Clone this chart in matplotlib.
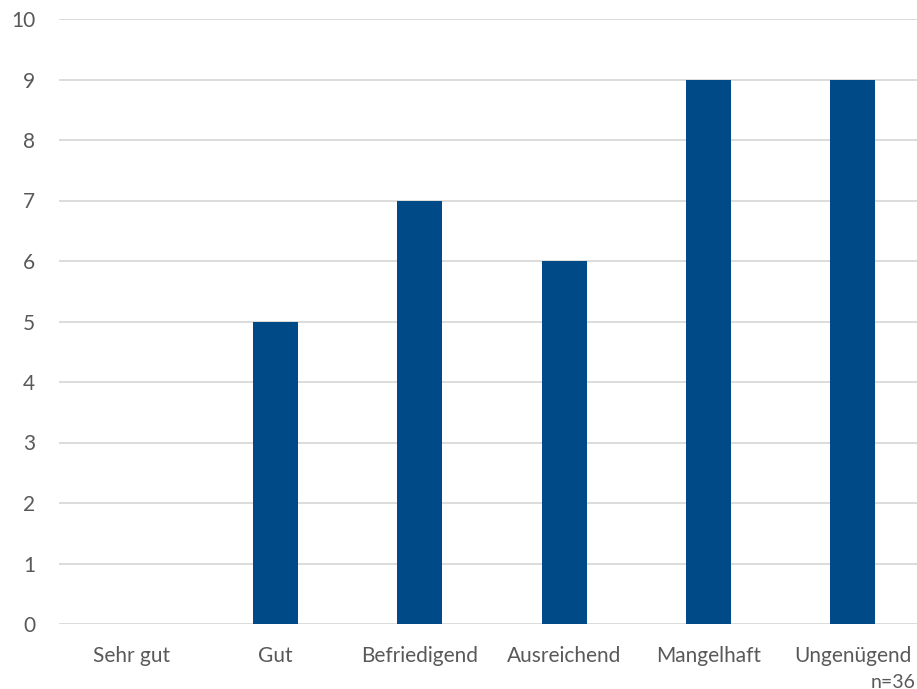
import matplotlib
matplotlib.use("Agg")
import matplotlib.pyplot as plt
import numpy as np

# data
categories = ["Sehr gut", "Gut", "Befriedigend", "Ausreichend", "Mangelhaft", "Ungenügend"]
counts = [0, 5, 7, 6, 9, 9]
yticks = list(range(0, 11))
note = "n=36"

bar_color = "#004B87"
grid_color = "#D9D9D9"
text_color = "#595959"

plt.rcParams['font.family'] = ['Lato', 'DejaVu Sans']

fig = plt.figure(figsize=(9.17, 6.89), dpi=100)
ax = fig.add_axes([59/917, 65/689, 866/917, 605/689])

x = np.arange(len(categories))
ax.bar(x, counts, width=0.31, color=bar_color, zorder=3)

ax.set_xlim(-0.5, len(categories) - 0.5)
ax.set_ylim(0, 10)
ax.set_yticks(yticks)
ax.set_xticks(x)
ax.set_xticklabels(categories)
ax.grid(axis='y', color=grid_color, linewidth=1.3, zorder=0)
ax.tick_params(axis='both', length=0, labelsize=15, colors=text_color)
ax.tick_params(axis='y', pad=17)
ax.tick_params(axis='x', pad=15.5)
for s in ax.spines.values():
    s.set_visible(False)

fig.text(916/917, 1 - 682/689, note, ha='right', va='center', fontsize=14, color=text_color)

fig.savefig("out.png", dpi=100)
